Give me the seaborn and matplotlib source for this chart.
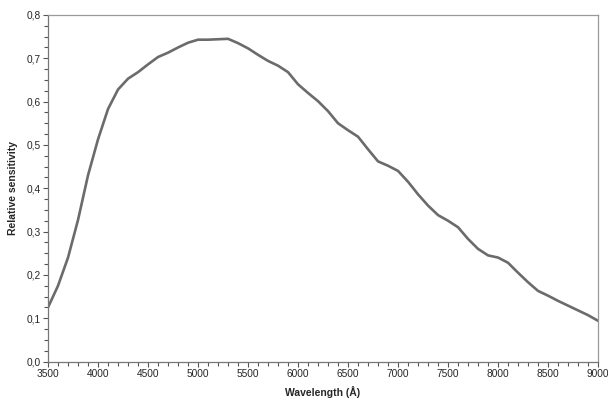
import numpy as np
import pandas as pd
import seaborn as sns
import matplotlib
matplotlib.use("Agg")
import matplotlib.pyplot as plt
from matplotlib.ticker import MultipleLocator, FuncFormatter

wavelength = [3500, 3600, 3700, 3800, 3900, 4000, 4100, 4200, 4300, 4400,
              4500, 4600, 4700, 4800, 4900, 5000, 5100, 5200, 5300, 5400,
              5500, 5600, 5700, 5800, 5900, 6000, 6100, 6200, 6300, 6400,
              6500, 6600, 6700, 6800, 6900, 7000, 7100, 7200, 7300, 7400,
              7500, 7600, 7700, 7800, 7900, 8000, 8100, 8200, 8300, 8400,
              8500, 8600, 8700, 8800, 8900, 9000]
sensitivity = [0.125, 0.175, 0.240, 0.327, 0.430, 0.513, 0.583, 0.628, 0.653, 0.668,
               0.686, 0.703, 0.713, 0.725, 0.736, 0.743, 0.743, 0.744, 0.745, 0.735,
               0.723, 0.708, 0.694, 0.683, 0.668, 0.640, 0.620, 0.601, 0.578, 0.550,
               0.534, 0.519, 0.490, 0.462, 0.452, 0.440, 0.415, 0.386, 0.360, 0.338,
               0.325, 0.310, 0.283, 0.260, 0.245, 0.240, 0.228, 0.205, 0.183, 0.163,
               0.152, 0.140, 0.129, 0.118, 0.107, 0.094]

df = pd.DataFrame({"Wavelength": wavelength, "Sensitivity": sensitivity})

sns.set_style("ticks")
plt.rcParams["font.family"] = ["Liberation Sans", "DejaVu Sans"]

fig = plt.figure(figsize=(6.08, 4.01), dpi=100)
ax = fig.add_axes([0.079, 0.0985, 0.9046, 0.8641])

sns.lineplot(data=df, x="Wavelength", y="Sensitivity", ax=ax,
             color="#6b6b6b", linewidth=1.9)

ax.set_xlim(3500, 9000)
ax.set_ylim(0, 0.8)
ax.xaxis.set_major_locator(MultipleLocator(500))
ax.xaxis.set_minor_locator(MultipleLocator(100))
ax.yaxis.set_major_locator(MultipleLocator(0.1))
ax.yaxis.set_minor_locator(MultipleLocator(0.025))
ax.yaxis.set_major_formatter(FuncFormatter(lambda v, p: f"{v:.1f}".replace(".", ",")))

ax.tick_params(axis="both", which="major", direction="out", length=3.5, width=0.8,
               color="#555555", labelsize=7.3, pad=2)
ax.tick_params(axis="both", which="minor", direction="out", length=3, width=0.8,
               color="#555555")

for side in ["left", "bottom"]:
    ax.spines[side].set_color("#777777")
    ax.spines[side].set_linewidth(0.9)
for side in ["top", "right"]:
    ax.spines[side].set_visible(True)
    ax.spines[side].set_color("#999999")
    ax.spines[side].set_linewidth(0.9)

ax.set_xlabel("Wavelength (Å)", fontsize=7.5, fontweight="bold", labelpad=5)
ax.set_ylabel("Relative sensitivity", fontsize=7.5, fontweight="bold", labelpad=6)

fig.savefig("out.png", dpi=100)
